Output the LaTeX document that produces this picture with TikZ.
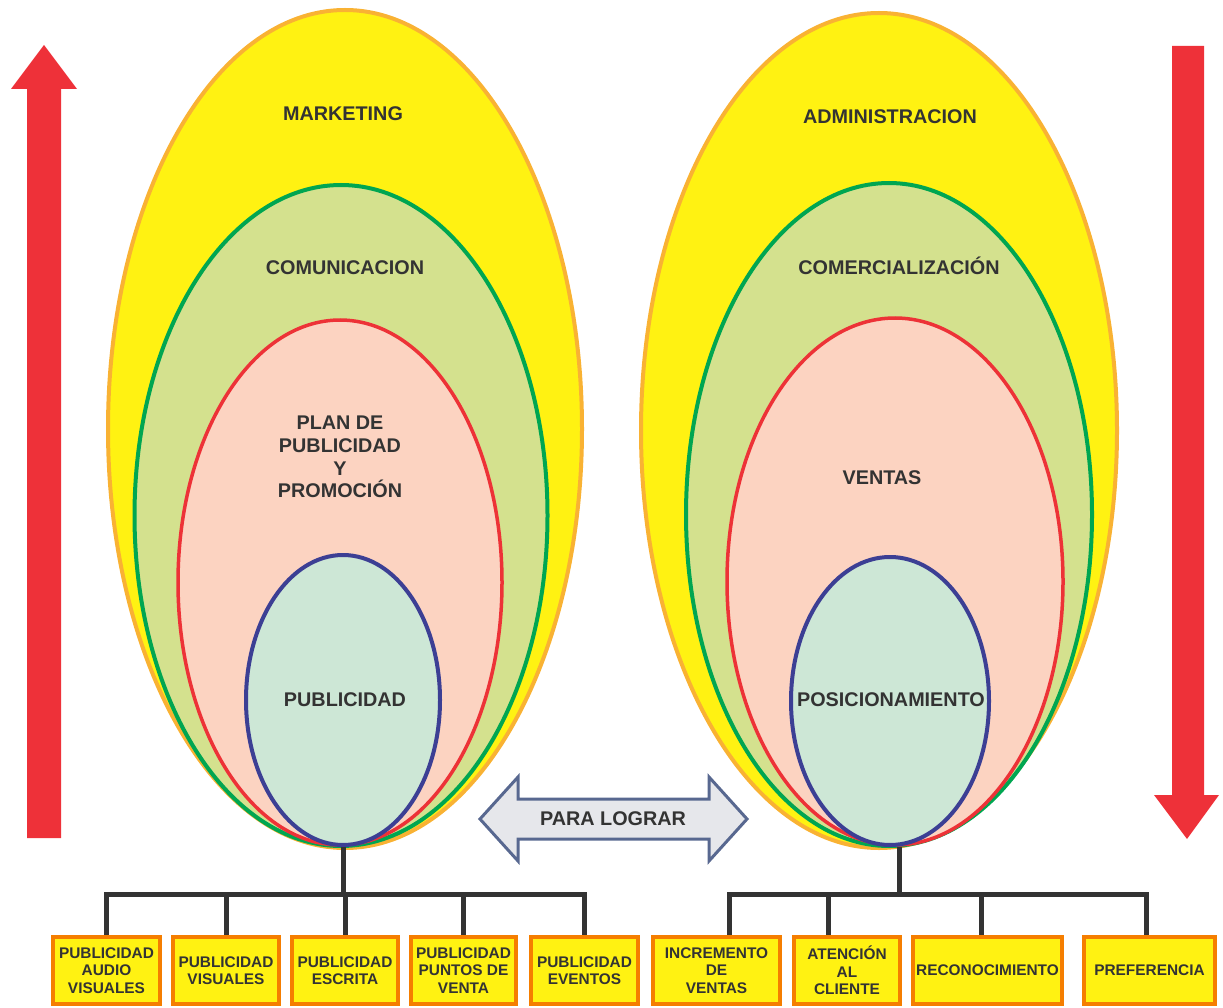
\documentclass[tikz,border=0pt]{standalone}
\usepackage{xcolor}
\usepackage{fontspec}
\setmainfont{Liberation Sans}
\usepackage{tikz}
\usetikzlibrary{shapes,arrows}

\definecolor{eggyellow}{HTML}{FFF212}
\definecolor{eggorange}{HTML}{F9B233}
\definecolor{olivefill}{HTML}{D4E18E}
\definecolor{greenline}{HTML}{00A651}
\definecolor{peach}{HTML}{FCD3C1}
\definecolor{redline}{HTML}{ED3237}
\definecolor{mint}{HTML}{CDE7D6}
\definecolor{indigo}{HTML}{3C3F94}
\definecolor{boxorange}{HTML}{F57E00}
\definecolor{textgray}{HTML}{333333}
\definecolor{arrowred}{HTML}{EE3139}
\definecolor{arrowfill}{HTML}{E6E7EB}
\definecolor{arrowline}{HTML}{586890}

\begin{document}
\begin{tikzpicture}[x=1pt, y=-1pt, line width=1pt,
  egg/.style={ellipse, inner sep=0pt, line width=4pt},
  tag/.style={text=textgray, align=center, inner sep=0pt, font=\fontsize{19.8}{22.6}\selectfont\bfseries},
  leaf/.style={draw=boxorange, fill=eggyellow, line width=4pt, inner sep=0pt, minimum height=67pt, align=center, text=textgray, font=\fontsize{15.4}{17.5}\selectfont\bfseries},
  wire/.style={draw=textgray, line width=5pt}]
\useasboundingbox (0,0) rectangle (1223,1008);

\fill[arrowred] (27,838) -- (27,89) -- (11,89) -- (44,45) -- (77,89) -- (61,89) -- (61,838) -- cycle;
\fill[arrowred] (1172,46) -- (1172,795) -- (1154,795) -- (1187,839) -- (1219,795) -- (1204,795) -- (1204,46) -- cycle;

\node[egg, draw=eggorange, fill=eggyellow, minimum width=474pt, minimum height=838pt] (mkt) at (345,429) {};
\node[egg, draw=greenline, fill=olivefill, minimum width=413pt, minimum height=661pt] (com) at (341,515.5) {};
\node[egg, draw=redline, fill=peach, line width=3.5pt, minimum width=324pt, minimum height=525pt] (plan) at (340,582.5) {};
\node[egg, draw=indigo, fill=mint, minimum width=194pt, minimum height=290pt] (pub) at (343,700) {};

\node[egg, draw=eggorange, fill=eggyellow, minimum width=476pt, minimum height=835pt] (adm) at (879,430.5) {};
\node[egg, draw=greenline, fill=olivefill, minimum width=406pt, minimum height=663pt] (comer) at (889,514.5) {};
\node[egg, draw=redline, fill=peach, line width=3.5pt, minimum width=336pt, minimum height=527pt] (ventas) at (895,581.5) {};
\node[egg, draw=indigo, fill=mint, minimum width=198pt, minimum height=288pt] (pos) at (890,701) {};

\node[tag] (mktlbl) at (343,114) {MARKETING};
\node[tag] (comlbl) at (345,268) {COMUNICACION};
\node[tag] (planlbl) at (340,457) {PLAN DE\\PUBLICIDAD\\Y\\PROMOCIÓN};
\node[tag] (publbl) at (345,700) {PUBLICIDAD};
\node[tag] (admlbl) at (890,117) {ADMINISTRACION};
\node[tag] (comerlbl) at (899,266) {COMERCIALIZACIÓN};
\node[tag] (ventaslbl) at (882,478) {VENTAS};
\node[tag] (poslbl) at (891,700) {POSICIONAMIENTO};

\draw[draw=arrowline, fill=arrowfill, line width=3pt, line join=miter] (480,819) -- (518,777) -- (518,799) -- (709,799) -- (709,777) -- (747,819) -- (709,861) -- (709,839) -- (518,839) -- (518,861) -- cycle;
\node[tag] (goal) at (613,819) {PARA LOGRAR};

\node[leaf, minimum width=107pt] (b1) at (106.5,970.5) {PUBLICIDAD\\AUDIO\\VISUALES};
\node[leaf, minimum width=106pt] (b2) at (226,970.5) {PUBLICIDAD\\VISUALES};
\node[leaf, minimum width=106pt] (b3) at (345,970.5) {PUBLICIDAD\\ESCRITA};
\node[leaf, minimum width=105pt] (b4) at (463.5,970.5) {PUBLICIDAD\\PUNTOS DE\\VENTA};
\node[leaf, minimum width=107pt] (b5) at (584.5,970.5) {PUBLICIDAD\\EVENTOS};

\node[leaf, minimum width=127pt] (r1) at (716.5,970.5) {INCREMENTO\\DE\\VENTAS};
\node[leaf, minimum width=106pt] (r2) at (847,970.5) {ATENCIÓN\\AL\\CLIENTE};
\node[leaf, minimum width=149pt] (r3) at (987.5,970.5) {RECONOCIMIENTO};
\node[leaf, minimum width=131pt] (r4) at (1149.5,970.5) {PREFERENCIA};

\coordinate (lbus) at (343,894);
\coordinate (rbus) at (899,894);
\draw[wire] (pub.south) -- (lbus);
\draw[wire] (pos.south -| rbus) -- (rbus);
\foreach \b in {b1,b2,b3,b4,b5}
  \draw[wire] (lbus) -| (\b.north);
\draw[wire] (rbus) -| ([xshift=13pt]r1.north);
\draw[wire] (rbus) -| ([xshift=-19pt]r2.north);
\draw[wire] (rbus) -| ([xshift=-6pt]r3.north);
\draw[wire] (rbus) -| ([xshift=-3pt]r4.north);
\end{tikzpicture}
\end{document}
